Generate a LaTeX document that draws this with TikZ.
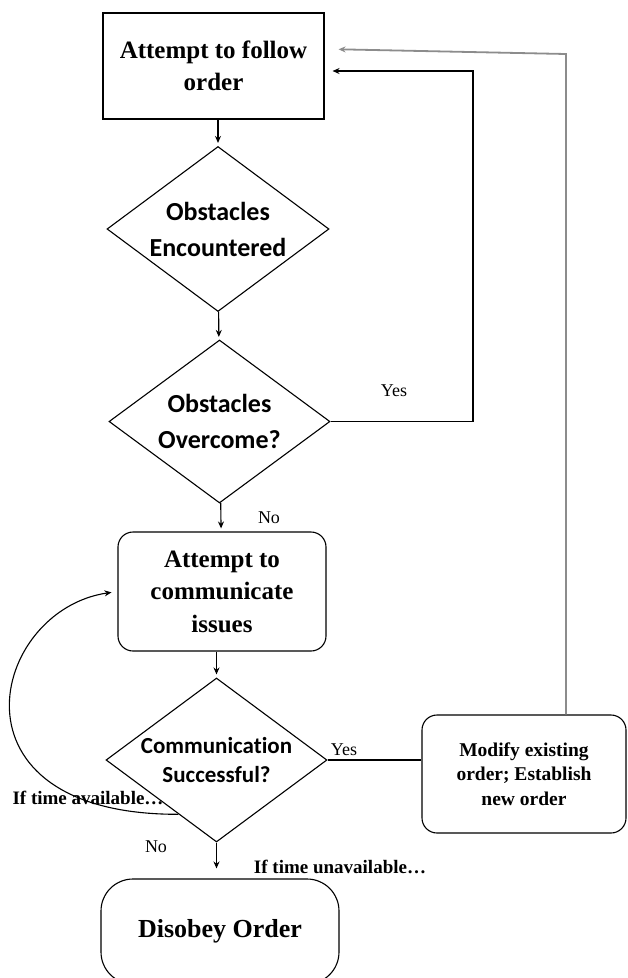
\documentclass[tikz,border=0pt]{standalone}
\usepackage{fontspec}
\setmainfont{Liberation Serif}
\newfontfamily\calibri[Ligatures=NoCommon]{Carlito}
\usepackage{tikz}
\usetikzlibrary{shapes}
\usetikzlibrary{shapes.geometric}
\usetikzlibrary{arrows.meta}
\usetikzlibrary{calc}
\tikzstyle{instruct}=[rectangle,draw,line width=1.1pt,align=center,
        font=\fontsize{25}{32}\selectfont\bfseries]
\tikzstyle{es}=[rectangle,draw,rounded corners=15pt,line width=1.1pt,align=center]
\tikzstyle{test}=[diamond,aspect=1.35,draw,line width=1.1pt,inner sep=-6pt,align=center,
        font=\calibri\bfseries\fontsize{26}{36}\selectfont]
\tikzstyle{debutfin}=[rectangle,draw,rounded corners=32pt,line width=1.1pt,
        font=\fontsize{26}{30}\selectfont\bfseries]
\tikzstyle{suite}=[-{Stealth[length=7pt,width=6pt]},line width=1.1pt,shorten >=3pt]
\tikzstyle{ligne}=[line width=1.1pt]
\tikzstyle{retour}=[-{Stealth[length=7pt,width=6pt]},line width=1.8pt,draw=black!45]
\tikzstyle{etiq}=[font=\fontsize{18}{20}\selectfont]
\tikzstyle{etiqg}=[font=\fontsize{19}{22}\selectfont\bfseries]

\begin{document}
\begin{tikzpicture}[x=1pt,y=1pt]
\useasboundingbox (0,0) rectangle (627,-978);
\node[instruct,minimum width=221pt,minimum height=106pt] (a) at (213.5,-66) {Attempt to follow\\order};
\node[test,minimum width=222pt,minimum height=165pt] (test) at (218,-229) {Obstacles\\Encountered};
\node[test,minimum width=221pt,minimum height=163pt] (test2) at (219.5,-421.5) {Obstacles\\Overcome?};
\node[es,minimum width=208pt,minimum height=119pt,font=\fontsize{25}{32.5}\selectfont\bfseries] (b) at (222,-591.5) {Attempt to\\communicate\\issues};
\node[test,minimum width=221pt,minimum height=164pt,font=\calibri\bfseries\fontsize{23}{29}\selectfont] (test3) at (216.5,-760) {Communication\\Successful?};
\node[es,minimum width=204pt,minimum height=118pt,font=\fontsize{19.5}{24.5}\selectfont\bfseries] (c) at (524,-774) {Modify existing\\order; Establish\\new order};
\node[debutfin,minimum width=238pt,minimum height=105pt] (d) at (220,-931.5) {Disobey Order};
\coordinate (coude1) at (473,-71);
\coordinate (coude2) at (566,-54);
%Placement des fleches
\draw[suite] (test.north |- a.south) -- (test);
\draw[suite] (test) -- (test2);
\draw[suite,shorten >=8pt] (test2.east) -| (coude1) -- (a.east |- coude1);
\node[etiq] (oui1) at (394,-391) {Yes};
\draw[suite] (test2) -- (b);
\node[etiq] (non1) at (269,-518) {No};
\draw[suite] (test3.north |- b.south) -- (test3.north);
\draw[ligne] (test3.east) -- (test3.east -| c.west);
\node[etiq] (oui2) at (344,-750) {Yes};
\draw[retour,shorten >=14pt] (c.north -| coude2) -- (coude2) -- (a.east |- 0,-49);
\draw[suite,shorten >=6pt] (test3.235) .. controls (-60,-815) and (-10,-610) .. (b.west);
\node[etiqg] (dispo) at (88,-798) {If time available\ldots};
\draw[suite,shorten >=10pt] (test3.south) -- (test3.south |- d.north);
\node[etiq] (non2) at (156,-847) {No};
\node[etiqg] (indispo) at (340,-867) {If time unavailable\ldots};
\end{tikzpicture}
\end{document}
